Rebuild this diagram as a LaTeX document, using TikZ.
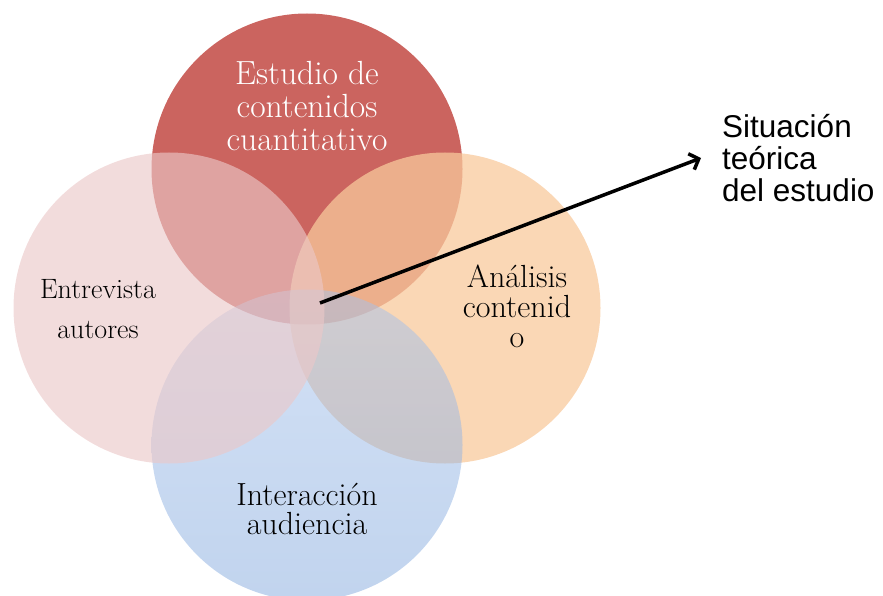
\documentclass[tikz,border=0pt]{standalone}
\usepackage{fontspec}
\newfontfamily\arialfont{Liberation Sans}
\usetikzlibrary{arrows.meta}
\definecolor{rojo}{RGB}{203,100,95}
\definecolor{rosa}{RGB}{235,200,200}
\definecolor{melon}{RGB}{248,201,156}
\definecolor{azulA}{RGB}{167,195,237}
\definecolor{azulB}{RGB}{131,169,221}
\tikzset{
	circulo/.style={circle,minimum size=311pt,inner sep=0pt},
	etiqueta/.style={align=center,inner sep=0pt}
}
\begin{document}
\begin{tikzpicture}[x=1pt,y=-1pt,>=stealth]
			\useasboundingbox (0,0) rectangle (883,596);
			\clip (0,0) rectangle (883,596);
			\node[circulo,fill=rojo] (estudio) at (307,169) {};
			\node[circulo,fill=melon,fill opacity=0.75] (analisis) at (445,308) {};
			\node[circulo,top color=azulA,bottom color=azulB,fill opacity=0.5] (interaccion) at (307,445) {};
			\node[circulo,fill=rosa,fill opacity=0.63] (entrevista) at (169,308) {};
			\node[etiqueta,text=white,font=\fontsize{33.5}{33}\selectfont] (testudio) at (307,106) {Estudio de\\contenidos\\cuantitativo};
			\node[etiqueta,font=\fontsize{28}{40}\selectfont] (tentrevista) at (98,309) {Entrevista\\autores};
			\node[etiqueta,font=\fontsize{32}{30}\selectfont] (tanalisis) at (517,306) {Análisis\\contenid\\o};
			\node[etiqueta,font=\fontsize{32}{29}\selectfont] (tinteraccion) at (307,509) {Interacción\\audiencia};
			\node[align=left,inner sep=0pt,anchor=west,font=\arialfont\fontsize{31.5}{32}\selectfont] (situacion) at (722,158) {Situación\\teórica\\del estudio};
			\coordinate (centro) at (320,303);
			\draw[line width=3.5pt,-{Straight Barb[length=8pt,width=17pt]}] (centro) -- ([xshift=-21pt,yshift=0pt]situacion.west);
	\end{tikzpicture}
\end{document}
